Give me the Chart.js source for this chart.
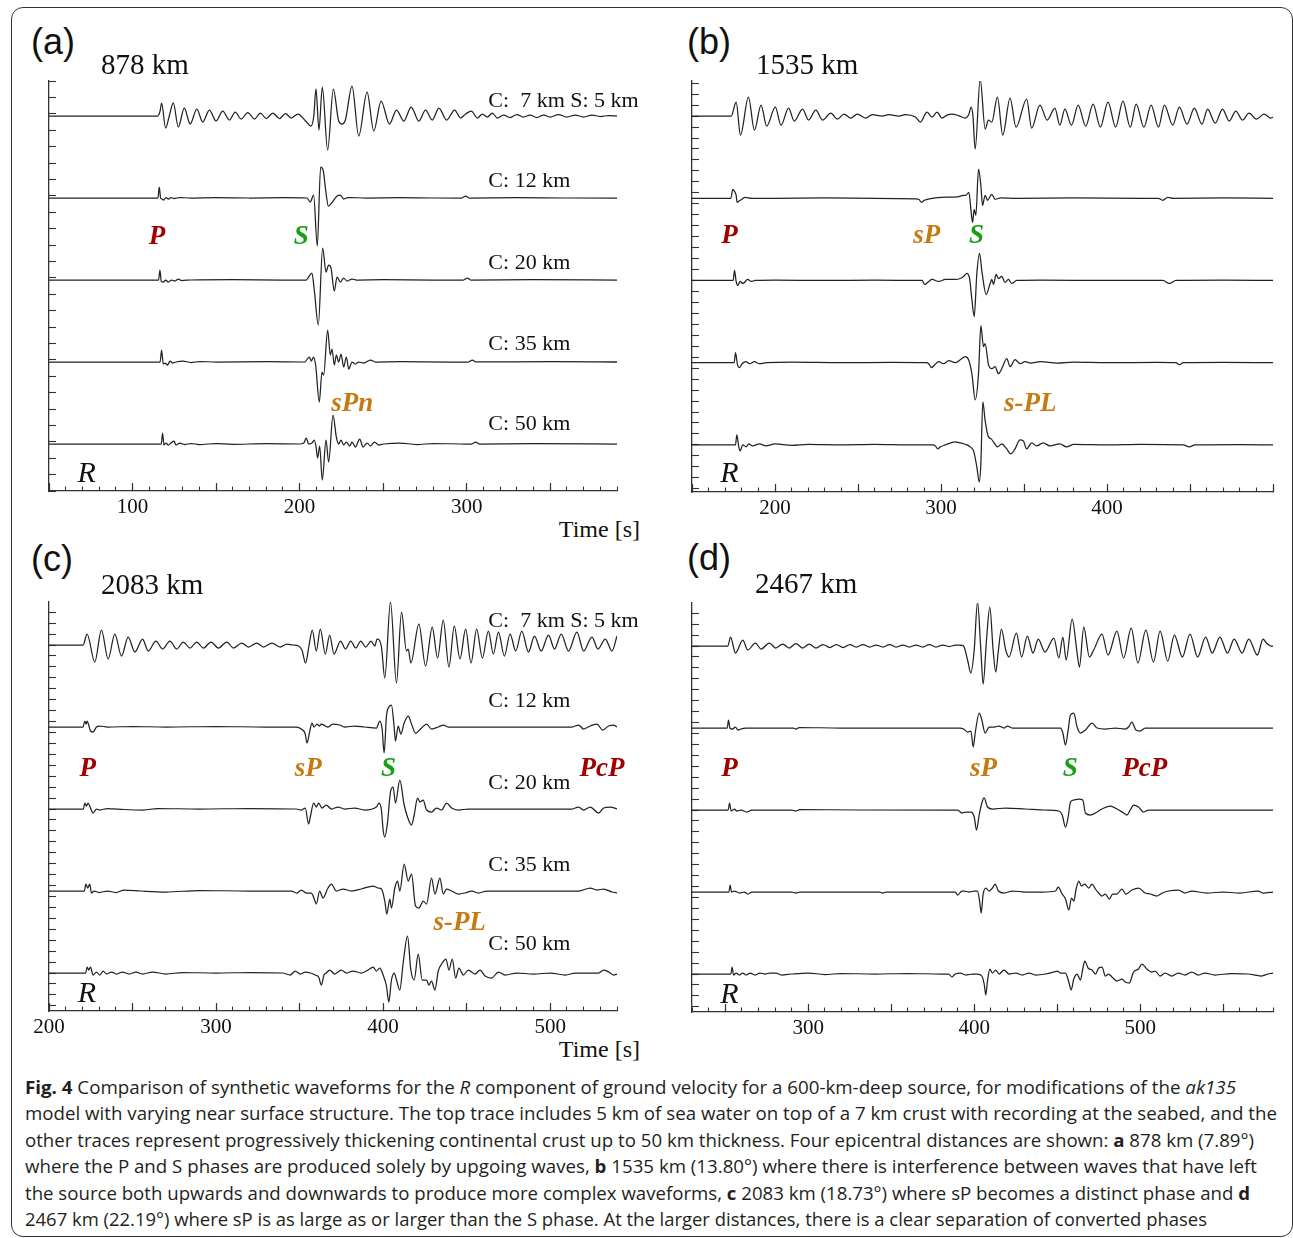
<!DOCTYPE html>
<html>
<head>
<meta charset="utf-8">
<title>Fig. 4 synthetic waveforms</title>
<script src="https://cdn.jsdelivr.net/npm/chart.js@4.4.1/dist/chart.umd.min.js"></script>
<style>
html,body{margin:0;padding:0;background:#fff;}
#fig{position:relative;width:1293px;height:1238px;overflow:hidden;background:#fff;}
#frame{position:absolute;left:11px;top:7px;width:1282px;height:1230px;border:1.5px solid #333;border-radius:12px;box-sizing:border-box;}
canvas{position:absolute;}
.t{position:absolute;white-space:pre;font-family:'Liberation Serif','Times New Roman',serif;color:#111;line-height:1;}
.tag{position:absolute;font-family:'Liberation Sans',Arial,sans-serif;font-size:36px;line-height:36px;color:#111;}
.dist{position:absolute;font-family:'Liberation Serif',serif;font-size:29px;line-height:29px;color:#111;white-space:nowrap;}
.crust{font-size:22px;transform:translate(0,-50%);}
.phase{font-size:27px;font-weight:bold;font-style:italic;transform:translate(-50%,-50%);}
.rlab{font-size:30px;font-style:italic;transform:translate(-50%,-50%);}
.time{position:absolute;font-family:'Liberation Serif',serif;font-size:24px;line-height:24px;color:#111;white-space:nowrap;}
.cl{position:absolute;left:25px;white-space:nowrap;font-family:'Open Sans',sans-serif;font-size:17.5px;line-height:24px;color:#231f20;transform-origin:0 0;}
</style>
</head>
<body>
<div id="fig">
  <div id="frame"></div>
  <div class="tag" style="left:31px;top:24px;">(a)</div>
  <div class="tag" style="left:687px;top:24px;">(b)</div>
  <div class="tag" style="left:31px;top:541px;">(c)</div>
  <div class="tag" style="left:687px;top:540px;">(d)</div>
  <div class="time" style="right:653px;top:517px;">Time [s]</div>
  <div class="time" style="right:653px;top:1037px;">Time [s]</div>
  <div class="cl" data-w="1211" style="top:1075px;"><b>Fig. 4</b> Comparison of synthetic waveforms for the <i>R</i> component of ground velocity for a 600-km-deep source, for modifications of the <i>ak135</i></div>
  <div class="cl" data-w="1252" style="top:1101px;">model with varying near surface structure. The top trace includes 5 km of sea water on top of a 7 km crust with recording at the seabed, and the</div>
  <div class="cl" data-w="1229" style="top:1128px;">other traces represent progressively thickening continental crust up to 50 km thickness. Four epicentral distances are shown: <b>a</b> 878 km (7.89°)</div>
  <div class="cl" data-w="1232" style="top:1154px;">where the P and S phases are produced solely by upgoing waves, <b>b</b> 1535 km (13.80°) where there is interference between waves that have left</div>
  <div class="cl" data-w="1225" style="top:1181px;">the source both upwards and downwards to produce more complex waveforms, <b>c</b> 2083 km (18.73°) where sP becomes a distinct phase and <b>d</b></div>
  <div class="cl" data-w="1182" style="top:1207px;">2467 km (22.19°) where sP is as large as or larger than the S phase. At the larger distances, there is a clear separation of converted phases</div>
</div>
<script>
// ---------- categories / labels ----------
const CRUST = ['C:  7 km S: 5 km', 'C: 12 km', 'C: 20 km', 'C: 35 km', 'C: 50 km'];
const DISTANCES = ['878 km', '1535 km', '2083 km', '2467 km'];
const X_A = [50, 390], X_B = [150, 500], X_C = [200, 540], X_D = [230, 580];
const CRUST_T_A = 313, CRUST_Y_A = [344, 264, 182, 101, 21];
const CRUST_T_C = 463, CRUST_Y_C = [353, 273, 191, 109, 30];
const PH_A = [['P',114.6,209],['S',201,209],['sPn',231.6,42]];
const PH_B = [['P',172.6,210],['sP',291.4,210],['S',321.4,210],['s-PL',353.8,43]];
const PH_C = [['P',223.2,206],['sP',355.2,206],['S',403.2,206],['PcP',531,206],['s-PL',445.8,52]];
const PH_D = [['P',252.6,207],['sP',405.6,207],['S',457.8,207],['PcP',502.8,207]];
const R_A = [72.6,-28], R_B = [172.6,-27], R_C = [222.7,-19], R_D = [252.6,-19];

// ---------- waveforms: [time s, amplitude] ----------
const A1 = [[50,0],[115,0],[116.5,5],[117.4,13],[119.8,-12],[122,0],[124.4,13],[127.4,-11],[131,8],[134.5,-8],[138.5,7],[142,-6],[146,6],[150,-5],[154,5],[158,-4],[161.5,4],[165,-3],[169,3.5],[173,-3],[176.5,3],[180,-2.5],[184,3],[188,-2.5],[191.5,2.5],[195,-2],[199,2],[203.6,-5],[206.8,-10],[208.5,0],[209.8,27],[211.6,-14],[213.6,29],[216.8,-34],[220.2,27],[223.4,-5],[225.4,-8],[227.4,-4],[231.4,30],[235.4,-20],[240.4,24],[244.4,-15],[248.8,15],[253.8,-8],[258,6],[262.4,-5],[266.8,9],[271.4,-5],[275.4,6],[279.4,-4],[283.4,8],[288,-4],[292.8,6],[296.4,-2],[299.4,2],[302.8,5],[306.4,-2],[309.4,2],[312.4,-1],[315.4,3],[318.4,-2],[322,1],[326,-1.5],[330,1.5],[334,-1],[338,1],[342,-1.5],[346,1],[350,-1],[355,1.5],[360,-1],[365,1],[370,-1],[375,1],[380,-0.5],[385,0.5],[390,0]];
const A2 = [[50,0],[115.2,0],[116,11],[116.8,0],[117.6,-1],[118.6,-2],[120,0.5],[121.5,-1],[123,0.5],[125,-0.5],[128,0.5],[135,0],[150,0.3],[170,0],[190,0.3],[204.4,0],[206.4,-4],[208.4,3],[210.6,-48],[212.6,31],[214.2,27],[215.6,8],[217.2,-8],[219.2,-5],[222.4,2],[224.4,3],[226.4,-1],[229,0.5],[240,0],[260,0.3],[280,0],[297,0],[299.4,2],[301.5,0],[330,0.3],[360,0],[390,0]];
const A3 = [[50,0],[115.6,0],[116.4,10],[117.2,-1.5],[118.4,-2],[119.8,0],[121.4,-2],[123.4,0],[125.4,-1],[127.4,1],[129.4,-0.5],[135,0],[160,0.3],[190,0],[204,0],[205.4,3],[207.4,7],[208.8,-10],[211.2,-45],[213.8,32],[215.8,8],[217.4,15],[218.8,12],[220.8,-11],[222.4,3],[224.4,-2],[226.4,2],[228.4,-1],[231.4,1],[234,0],[250,0.3],[280,0],[298,0],[300.4,2],[302.5,0],[340,0.3],[390,0]];
const A4 = [[50,0],[116.5,0],[117.4,12],[118.4,-2],[119.4,-1],[121,-3],[122.4,1],[124,-1],[126,0],[130,1],[135,-0.5],[140,0.5],[150,0],[180,0.3],[203,0],[205.8,5],[207,1],[208.4,5],[209.6,-3],[211.8,-40],[213.4,-10],[214.4,-13],[216.8,32],[218.4,7],[219.4,13],[220.8,-3],[222,7],[223.4,0],[224.8,8],[226.4,-5],[228,5],[229.4,-7],[231.4,0],[233.4,-2],[235.4,0],[238.4,-1],[242.4,2],[245.4,0],[260,0.3],[290,0],[301,0],[303.4,2],[305.5,0],[350,0.3],[390,0]];
const A5 = [[50,0],[117.2,0],[118,11],[118.8,-1],[120,1],[121.4,-1],[123,1],[124.8,3],[126,-1],[128.4,1],[131,-0.5],[135,0.5],[140,-0.5],[150,0.5],[160,-0.3],[180,0.3],[200,0],[202.5,1],[204,6],[205.4,0],[207.4,1],[208.8,4],[209.8,-2],[210.8,-14],[212,-2],[213.6,-36],[215.8,4],[217.4,-18],[220,29],[222,7],[223.4,0],[224.8,4],[226.4,-1],[228,2],[230,-2],[231.4,2],[233.4,-3],[236,5],[238,-3],[240.4,1],[242.4,-2],[244.8,2],[247.4,-1],[250.4,0],[260,1],[270,-0.5],[280,0.5],[300,0],[303,0],[305.4,2],[307.5,0],[340,0.3],[390,0]];

const B1 = [[150,0],[173.6,0],[176.6,14],[179.2,-19],[184,19],[187.6,-14],[191.6,11],[195,-10],[200.2,9],[203.6,-9],[208.2,8],[211.6,-5],[216.6,7],[220.2,-4],[224.6,6],[228.6,-4],[233.6,3],[237.6,-3],[241.6,2],[245.6,-2],[249.6,2],[254.6,-2],[258.6,1.5],[264.6,0],[268.6,1.5],[274.6,0],[278.6,1.5],[284.6,-1],[287.6,-6],[291.6,4],[294.6,-1],[297.6,4],[300.6,-2],[303.6,1],[306.6,2],[310.6,0.5],[314.6,-2],[316.6,1],[318.2,9],[319.2,1],[320.6,-33],[323.6,37],[326.6,-13],[328.6,-4],[330.6,-6],[334,19],[337.2,-19],[341.6,18],[345.2,-11],[351.6,17],[354.6,-12],[359.6,11],[364,-4],[368.6,8],[371.6,-9],[374.6,7],[378.6,-9],[382.6,11],[387.2,-10],[391.6,12],[396,-11],[400.6,14],[405.2,-11],[409.6,15],[414,-11],[417.6,12],[422.2,-11],[426.6,11],[431,-11],[434.6,11],[439.6,-9],[443.6,9],[448.2,-8],[452.6,8],[457.2,-8],[460.6,7],[465.2,-7],[469.6,7],[473.6,-5],[477.6,5],[481.6,-4],[485.6,3],[490,-3],[494.6,2],[498.6,-2],[500,-1]];
const B2 = [[150,0],[173.4,0],[174.6,9],[175.6,7],[176.6,3],[177.2,-4],[178.2,-3],[180,-1],[182,1],[186,0],[200,0],[230,0.3],[260,0],[284.6,-0.5],[286.6,-1],[288.2,-4],[290,-2],[293,-0.5],[300,1],[310,1.5],[313.6,3],[315,3],[316.8,6],[318,-11],[319,-24],[320,-11],[321,-17],[322.6,29],[324,13],[325,-7],[326.6,3],[328,-2],[330.6,4],[332.6,-1],[336,0.5],[345,0],[380,0.3],[420,0],[431,0],[433.6,-2],[436.6,1],[440,0],[470,0.3],[500,0]];
const B3 = [[150,0],[174.8,0],[175.6,10],[176.6,-1],[177.6,-5],[179,-1],[180.6,-3],[183.6,1],[185.6,-1],[188,0],[200,0.3],[230,0],[260,0.3],[287,0],[288.6,0],[290.2,-4],[292.6,-1],[294.6,1],[298.6,-1],[302.6,1],[308.6,1],[311.6,2],[313.6,4],[315.6,7],[317.2,2],[318.6,-19],[320,-36],[321.6,7],[323.2,27],[324.8,7],[327.2,-14],[329.6,-3],[330.6,1],[331.6,-4],[333.2,6],[334.6,2],[336.6,4],[338.6,-2],[340.6,1],[342.6,-3],[345.6,0],[360,0.3],[400,0],[431,0],[433.6,0],[437.6,-3],[441.6,0],[470,0.3],[500,0]];
const B4 = [[150,0],[175.4,0],[176.2,10],[177.4,-2],[178.6,-5],[180.2,-1],[182.6,1],[184.6,-1],[187.6,1],[190.6,-1],[195,0],[210,0.5],[240,0],[270,0.3],[291,0],[292.6,-1],[294.2,-5],[296.2,-2],[298.6,1],[301.6,-1],[304.6,2],[308.6,0],[311.6,3],[314.6,6],[316.6,3],[318.6,-11],[320.6,-37],[322.6,-11],[324,37],[325.6,16],[326.6,19],[328.6,-2],[330.6,-6],[332.6,-4],[334.6,-11],[336.6,-6],[339.6,4],[341.6,-4],[344.6,3],[347.6,-1],[350.6,1],[354,-0.5],[360,1],[370,-0.5],[380,0.5],[400,0],[430,0.3],[441.6,0],[443.6,-2],[446,0],[470,0.3],[500,0]];
const B5 = [[150,0],[176.2,0],[177,10],[178.2,-2],[179,-6],[180.6,0],[182.6,-2],[184.2,1],[186.6,-1],[190.6,1],[194.6,-1],[200,1],[210,-0.5],[220,0.5],[240,0],[260,0.5],[280,0],[295,0],[296.6,-1],[298,-4],[299.6,-2],[302.6,0],[308.6,3],[311.6,2],[315.6,0],[317.6,-2],[319.6,-6],[321.6,-22],[323,-37],[324,-19],[325.2,43],[326.6,24],[328.6,8],[330.2,6],[331.6,3],[334,-2],[336.6,1],[339.6,-4],[342,-9],[344.6,-4],[347.6,5],[349.6,4],[351.6,-4],[354.6,2],[357.6,-1],[361.6,2],[365.6,-1],[371.6,1],[375.6,-2],[380,0.5],[400,0],[420,0.5],[446,0],[449.6,-2],[453,0],[480,0.3],[500,0]];

const C1 = [[200,0],[220.4,0],[222.8,11],[227.4,-17],[231.4,15],[235.4,-14],[239.4,11],[243.4,-11],[247.4,8],[251.4,-7],[256,6],[259.4,-6],[264,4],[268,-4],[272.4,4],[276.4,-4],[280.4,3],[284.4,-3],[288.4,3],[292.4,-3],[297,3],[301.4,-3],[306.4,3],[310.4,-3],[315.4,2],[319.4,-2],[324.4,2],[328.4,-2],[333.4,2],[338.4,-2],[342.4,1],[346,0],[349.4,-1],[351.4,-5],[353.6,-18],[355.5,-2],[357.6,15],[360,-6],[362.4,16],[365.4,-9],[368,10],[370.6,-9],[374.5,4],[377.5,-4],[380.6,4],[383.6,-3],[386.6,4],[389.6,-2],[392.8,4],[395,-1],[396.4,6],[399,-2],[401,-33],[404.4,43],[408,-38],[411,33],[414,-6],[415,-4],[416.6,-18],[421.4,21],[425.4,-21],[429.4,18],[432.6,-13],[436,25],[439.4,-22],[442.6,19],[446,-14],[449.4,16],[452.6,-18],[456,16],[459.4,-13],[463,14],[466,-9],[469,13],[472.6,-11],[476,11],[479.4,-6],[483,14],[487,-7],[490.6,9],[494.6,-6],[499,10],[502.6,-4],[506.6,11],[511,-6],[516,13],[520,-6],[525,8],[528.6,-4],[533,6],[537,-6],[540,9]];
const C2 = [[200,0],[220.4,0],[221.4,6],[222.2,3],[222.8,6],[223.8,2],[224.8,-4],[226.4,-5],[228.4,0],[230.4,1],[235,0],[250,0.5],[270,0],[300,0.5],[330,0],[348,0],[351,-2],[353.4,-7],[354.4,-16],[356,-5],[357.4,4],[358.6,0],[360.4,3],[362,1],[363,3],[365.4,1],[367,0],[370,3],[374,2],[377,0],[383,1],[389,0],[396,-1],[398,6],[399.4,-2],[400.6,-26],[402,11],[403.4,20],[405,22],[406.6,0],[407.4,-14],[409,1],[410.6,-7],[412.6,4],[415,11],[417,3],[419.4,-6],[423,-1],[426,3],[429,-2],[433,0],[436,2],[439,0],[460,0],[500,0],[513,0],[517,2],[520,-2],[524,1],[528,3],[531.4,-3],[535,1],[538,2],[540,0]];
const C3 = [[200,0],[220.6,0],[221.4,6],[222.4,3],[223.4,6],[224.6,2],[226.4,-4],[228.4,0],[230.4,-1],[235,0.5],[245,-0.5],[256.4,-1],[265,0.5],[290,0],[320,0.5],[348,0],[351,-1],[353.4,1],[355.4,-15],[356.4,-8],[358.4,6],[360,2],[361.4,6],[363.4,1],[366,4],[369,0],[373,2],[377,0],[383,1],[389,-1],[396,2],[397.6,6],[399,-1],[400,-21],[401,-28],[402.6,-14],[404.4,17],[406,22],[407.4,6],[410,29],[412.6,4],[414.6,-8],[417,-16],[418.6,-6],[420.6,11],[422,7],[424,9],[426,-1],[429,-3],[432,1],[435,-1],[438,6],[441,1],[445,-1],[451,0],[480,0],[513,0],[517,2],[520,-1],[524,2],[529,-4],[532,1],[536,2],[540,0]];
const C4 = [[200,0],[221.2,0],[222,7],[223.2,3],[224.4,7],[225.4,-2],[227,0],[230,-1.5],[235,0],[240,-1.5],[245,1],[255,0],[270,-1],[290,0.5],[320,0],[345,0],[348.4,-2],[351,1],[354,-2],[357,-2],[358.6,-7],[360,-13],[362,0],[364,-7],[367,3],[369,7],[372,0],[376,2],[381,0],[387,2],[394,5],[397,3],[399,2],[401,-10],[402.2,-23],[404,-8],[405,-17],[407,3],[408.6,10],[410,0],[412.6,27],[415,10],[417,17],[419.4,-15],[421.4,-17],[424,-10],[426,-13],[429,13],[431,-3],[434,13],[436,-3],[438,2],[441,0],[445,-3],[449,-2],[453,0],[457,-2],[462,0],[490,0],[517,0],[524,3],[528,1],[532,2],[537,-1],[540,-2]];
const C5 = [[200,0],[222,0],[222.8,6],[223.8,3],[224.8,6],[226.4,-2],[228.4,1],[230.4,-2],[232.4,2],[234.4,-1],[237.4,1],[240.4,-1],[244,1],[248,-1],[252,1],[256,-1],[262,1],[270,-1],[280,0.5],[300,0],[320,0.5],[340,0],[344.4,-2],[347.4,2],[350.4,-1],[353.4,1],[356.4,0],[359.4,-2],[361.4,-4],[363,-12],[364.6,-2],[366,0],[368,3],[371,-1],[375,3],[378,0],[382,2],[387,0],[391,3],[394,6],[396,2],[398,5],[400,-2],[402,-13],[403.4,-29],[405,-7],[406.6,0],[408,-7],[410,-17],[412,10],[414.6,37],[416.6,3],[418.6,-7],[421,19],[423.4,-7],[426,-7],[427.4,-12],[429,-8],[431,-17],[433,2],[435.4,10],[437.6,14],[439.4,3],[441.4,14],[443.4,-5],[445.4,5],[448,-2],[451,3],[455,-1],[458,3],[461,-3],[465,-5],[469,1],[473,-2],[480,0],[490,-1],[500,0],[509,-2],[515,0],[529,0],[532,3],[535,1],[538,-2],[540,-1]];

const D1 = [[230,0],[251.6,0],[253.2,9],[256.2,-7],[260.6,6],[263.6,-4],[268.2,3],[271.6,-3],[276.6,3],[280.4,-2],[284.6,2],[288.6,-2],[292.6,2.5],[296.6,-2],[300.6,2],[304.6,-2],[309,1.5],[313,-1.5],[317,1.5],[321,-1.5],[325,1.5],[329,-1],[333,1.5],[337,-1],[341,1],[345,-1],[349,1.5],[353,-1],[357,1],[361,-1],[365,1],[369,-1],[373,1.5],[377,-1],[381,1],[385,-0.5],[389,1],[391.6,1],[393.6,0],[396,-14],[398,-27],[400,-4],[402,44],[404,-4],[405.4,-38],[407.4,6],[409.4,39],[411.4,-4],[413,-26],[414.6,-4],[416.4,17],[419,-4],[421,-11],[425.4,13],[428.6,-11],[432,10],[435.4,-7],[438.6,7],[442.6,-6],[448,8],[451,-12],[453.4,9],[455.4,-14],[459,27],[462,-7],[463.4,-21],[466,19],[469.4,-11],[472,-4],[477,12],[480.6,-9],[486,15],[490,-12],[494.6,18],[498.6,-17],[503.4,16],[508,-16],[512,15],[516.6,-15],[520.6,11],[525.4,-11],[530,12],[534.6,-11],[539.4,9],[543.4,-7],[548,9],[552.6,-7],[556.6,7],[561.4,-7],[565.4,7],[570.6,-9],[574,7],[576,3],[579,0],[580,0]];
const D2 = [[230,0],[251.2,0],[252,8],[252.8,0],[254.4,-1],[256.2,1],[257.6,-2],[259.6,-1],[262,0],[280,0],[291,0],[292.6,-1],[294.6,0.5],[320,0],[360,0],[391.6,0],[393.6,-1],[396,-4],[398,-3],[399.4,-19],[400.6,-5],[403,15],[404.6,8],[406.6,-5],[409,1],[412,1],[415,2],[418,0],[420,2],[423,0],[450,0],[452,0],[453.4,-5],[455,-17],[456.6,-2],[458,13],[460,15],[462,1],[464,-5],[467,-2],[471,5],[474,0],[479,-1],[485,0],[491,-1],[493,1],[495,6],[497.4,-2],[500,-3],[503,0],[540,0],[580,0]];
const D3 = [[230,0],[251.8,0],[252.6,7],[253.6,-1],[255.6,1],[257,-1],[259.6,0],[263,-2],[266,0],[290,0],[292.6,-1],[295,0.5],[330,0],[390,0],[392.6,-3],[395,-2],[398,-2],[400,-7],[401.4,-20],[403,-5],[404.6,7],[406,12],[408,3],[411,1],[419,2],[431,1],[443,0],[451,-1],[453,-5],[455,-17],[456.6,-7],[458,8],[460,10],[463,11],[465.4,10],[467,-3],[470,-5],[473,-3],[477,1],[482,4],[486,1],[490,-3],[492,-5],[494,0],[496,5],[499,3],[502,-2],[505,0],[540,0],[580,0]];
const D4 = [[230,0],[252.2,0],[253,7],[253.8,0],[255.6,1],[258.6,-1],[261.6,0],[263.6,-2],[266,0],[290,0],[292.6,-1],[295,0],[343,0],[344.6,-1],[347,0],[386,0],[388.6,0],[390,-3],[392.6,1],[394,1],[397,0],[400,1],[402,1],[403.4,-11],[404.2,-21],[405.4,-2],[407,4],[409,1],[411,4],[412.6,8],[414.6,1],[418,-1],[423,1],[431,0],[441,0],[449,1],[450.6,5],[453,-2],[455,-7],[457,-18],[458.6,-6],[460,-9],[461.4,3],[463,11],[464.6,6],[466.6,8],[469,4],[471,8],[473,3],[475,-1],[477,-4],[479,-2],[481.4,-7],[483.4,-2],[486,-2],[489,3],[491.4,-2],[495,2],[499,4],[503,-1],[506,-2],[510,-4],[513.4,-1],[517,1],[523,2],[527,-1],[531,1],[540,-1],[550,0],[560,-1],[571,1],[574,-1],[580,0]];
const D5 = [[230,0],[253.4,0],[254.2,7],[255,-1],[256.6,1],[258.6,-1],[260.6,1],[262.6,-1],[265,1],[268,-1],[271,1],[274,0],[277,1],[280.6,1],[284,-1],[290,0],[300,1],[310,-0.5],[320,0.5],[340,0],[360,0.5],[380,0],[384.6,0],[386.6,-3],[388.6,0],[391.6,1],[395,-1],[399,0],[402,0],[404.6,-2],[406,-10],[407,-21],[408,-7],[409.4,5],[411,1],[413,4],[415,0],[418,4],[421,0],[425,1],[429,-1],[433,1],[437,-1],[443,0],[448,2],[450,3],[452,1],[455,1],[457,-8],[458.4,-16],[460,-5],[462,0],[464,-6],[465.4,5],[466.6,13],[468.6,6],[471,4],[473,0],[475,6],[477,7],[479,-2],[481,0],[483,-3],[486,-7],[489,-5],[491,-8],[493.4,-9],[496,2],[499,5],[501,10],[504,5],[507,2],[509,3],[512,-2],[515,1],[519,-2],[523,1],[527,-1],[531,2],[535,-1],[539,1],[545,-1],[555,0.5],[565,0],[573,-2],[577,0],[580,1]];

// ---------- layout ----------
const BASES = [328, 246, 164, 82, 0];   // trace baselines, trace spacing = 82 units
const PHASE_COLORS = {'P':'#a00000','PcP':'#a00000','S':'#16a016','sP':'#c57a12','sPn':'#c57a12','s-PL':'#c57a12'};
const fig = document.getElementById('fig');

const PANELS = [
  {traces:[A1,A2,A3,A4,A5], xr:X_A, yr:[-47,363], ystep:16.4, box:[0,0,646,545], pad:{left:49,right:29,top:81,bottom:10},
   dist:DISTANCES[0], distPos:[101,50], phases:PH_A, crustT:CRUST_T_A, crustY:CRUST_Y_A, r:R_A},
  {traces:[B1,B2,B3,B4,B5], xr:X_B, yr:[-47,363], ystep:82/7.5, box:[646,0,647,545], pad:{left:46,right:20,top:81,bottom:9},
   dist:DISTANCES[1], distPos:[756,50], phases:PH_B, r:R_B},
  {traces:[C1,C2,C3,C4,C5], xr:X_C, yr:[-38,371], ystep:82/7.5, box:[0,545,646,520], pad:{left:49,right:29,top:57,bottom:10},
   dist:DISTANCES[2], distPos:[101,570], phases:PH_C, crustT:CRUST_T_C, crustY:CRUST_Y_C, r:R_C},
  {traces:[D1,D2,D3,D4,D5], xr:X_D, yr:[-38,371], ystep:82/7.5, box:[646,545,647,520], pad:{left:46,right:20,top:58,bottom:9},
   dist:DISTANCES[3], distPos:[755,569], phases:PH_D, r:R_D}
];

function addDiv(cls, text, x, y, color) {
  const d = document.createElement('div');
  d.className = cls;
  d.textContent = text;
  d.style.left = x + 'px';
  d.style.top = y + 'px';
  if (color) d.style.color = color;
  fig.appendChild(d);
  return d;
}
// ticks at every multiple of `step` inside the axis range
function stepTicks(step) {
  return s => {
    const out = [];
    for (let k = Math.ceil(s.min / step - 1e-9); k * step <= s.max + 1e-9; k++) out.push({value: k * step});
    s.ticks = out;
  };
}

const AX = '#333';
PANELS.forEach(P => {
  const cv = document.createElement('canvas');
  cv.width = P.box[2]; cv.height = P.box[3];
  cv.style.left = P.box[0] + 'px'; cv.style.top = P.box[1] + 'px';
  cv.style.width = P.box[2] + 'px'; cv.style.height = P.box[3] + 'px';
  fig.appendChild(cv);
  const datasets = P.traces.map((tr, i) => ({
    data: tr.map(p => ({x: p[0], y: BASES[i] + p[1]})),
    xAxisID: 'x', yAxisID: 'y',
    borderColor: '#222', borderWidth: 1.25, pointRadius: 0, fill: false,
    cubicInterpolationMode: 'monotone'
  }));
  const chart = new Chart(cv, {
    type: 'line',
    data: {datasets},
    options: {
      responsive: false, animation: false, devicePixelRatio: 1, events: [],
      layout: {padding: P.pad, autoPadding: false},
      plugins: {legend: {display: false}, tooltip: {enabled: false}, title: {display: false}},
      scales: {
        x: {type: 'linear', axis: 'x', position: 'bottom', weight: 1, min: P.xr[0], max: P.xr[1],
            afterBuildTicks: stepTicks(50),
            ticks: {autoSkip: false, maxRotation: 0, minRotation: 0, padding: 12, color: '#111',
                    font: {family: "'Liberation Serif', 'Times New Roman', serif", size: 21},
                    callback: function (v) { return (Math.round(v) % 100 === 0 && v !== this.max) ? String(Math.round(v)) : ''; }},
            grid: {drawOnChartArea: false, drawTicks: true, tickLength: -8, tickColor: AX, tickWidth: 1.2},
            border: {display: true, color: AX, width: 1.3},
            afterFit: s => { s.height = 44; }},
        xm: {type: 'linear', axis: 'x', position: 'bottom', weight: 0, min: P.xr[0], max: P.xr[1],
             afterBuildTicks: stepTicks(10),
             ticks: {autoSkip: false, display: false},
             grid: {drawOnChartArea: false, drawTicks: true, tickLength: -4.5, tickColor: AX, tickWidth: 1.1},
             border: {display: false},
             afterFit: s => { s.height = 0; }},
        y: {type: 'linear', axis: 'y', position: 'left', min: P.yr[0], max: P.yr[1],
            ticks: {stepSize: P.ystep, includeBounds: false, autoSkip: false, display: false},
            grid: {drawOnChartArea: false, drawTicks: true, tickLength: -7, tickColor: AX, tickWidth: 1.1},
            border: {display: true, color: AX, width: 1.3},
            afterFit: s => { s.width = 0; }}
      }
    }
  });
  const sx = chart.scales.x, sy = chart.scales.y;
  const px = (t, y) => [P.box[0] + sx.getPixelForValue(t), P.box[1] + sy.getPixelForValue(y)];
  addDiv('dist', P.dist, P.distPos[0], P.distPos[1]);
  if (P.crustY) {
    P.crustY.forEach((yv, i) => { const q = px(P.crustT, yv); addDiv('t crust', CRUST[i], q[0], q[1]); });
  }
  P.phases.forEach(ph => { const q = px(ph[1], ph[2]); addDiv('t phase', ph[0], q[0], q[1], PHASE_COLORS[ph[0]]); });
  const rq = px(P.r[0], P.r[1]);
  addDiv('t rlab', 'R', rq[0], rq[1]);
});

function fitCaption() {
  document.querySelectorAll('.cl').forEach(el => {
    el.style.transform = 'none';
    const w = el.getBoundingClientRect().width;
    const target = +el.dataset.w;
    if (w > 0) el.style.transform = 'scaleX(' + (target / w) + ')';
  });
}
fitCaption();
if (document.fonts && document.fonts.ready) document.fonts.ready.then(fitCaption);
</script>
</body>
</html>
